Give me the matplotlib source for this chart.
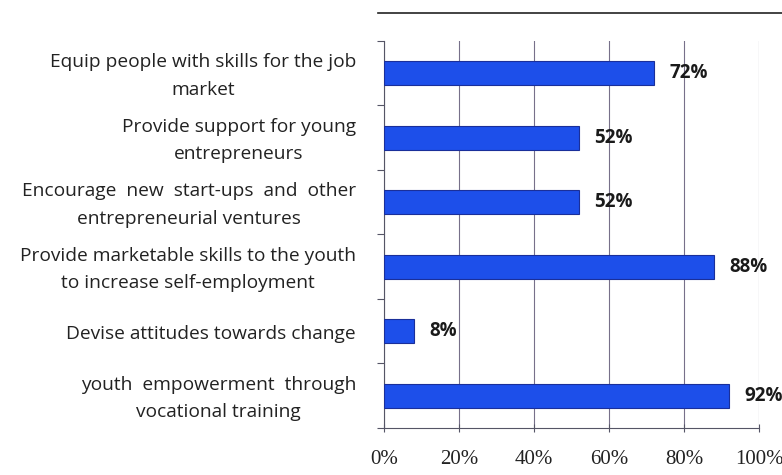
import matplotlib.pyplot as plt
import numpy as np
from matplotlib.lines import Line2D

categories = ["Equip people with skills for the job\nmarket",
              "Provide support for young\nentrepreneurs",
              "Encourage  new  start-ups  and  other\nentrepreneurial ventures",
              "Provide marketable skills to the youth\nto increase self-employment",
              "Devise attitudes towards change",
              "youth  empowerment  through\nvocational training"]
values = [72, 52, 52, 88, 8, 92]
xticks = [0, 20, 40, 60, 80, 100]
xlabels = ["0%", "20%", "40%", "60%", "80%", "100%"]

W, H = 782, 475
fig = plt.figure(figsize=(W/100, H/100), dpi=100)
ax = fig.add_axes([384/W, 1-428/H, (759-384)/W, (428-41)/H])

y = np.arange(len(values))
ax.barh(y, values, height=0.37, color='#1d4fea', edgecolor='#1a2f9a', linewidth=0.8, zorder=3)
for yi, v in zip(y, values):
    ax.text(v + 4, yi, f"{v}%", va='center', ha='left', fontsize=13.5, fontweight='bold',
            color='#1a1a1a', family='Open Sans', zorder=4)

ax.set_xlim(0, 100)
ax.set_ylim(len(values) - 0.5, -0.5)
ax.set_xticks(xticks)
ax.set_xticklabels(xlabels, family='Liberation Serif', fontsize=15, color='#222222')
ax.tick_params(axis='x', direction='inout', length=6, pad=13, color='#555566')
ax.grid(axis='x', color='#77708a', linewidth=0.8, zorder=1)

ax.set_yticks(np.arange(len(values) + 1) - 0.5)
ax.set_yticklabels([])
ax.tick_params(axis='y', direction='out', length=5, color='#555566')
for yi, c in zip(y, categories):
    ax.text(-28/375, yi + 0.04, c, transform=ax.get_yaxis_transform(), ha='right', va='center',
            multialignment='center', fontsize=13.8, family='Open Sans', color='#222222',
            linespacing=1.68)

for s in ['top', 'right']:
    ax.spines[s].set_visible(False)
ax.spines['left'].set_color('#555566')
ax.spines['bottom'].set_color('#555566')

fig.add_artist(Line2D([378/W, 1.0], [1-13/H, 1-13/H], color='#222222', linewidth=1.2))

plt.savefig('out.png', dpi=100)
